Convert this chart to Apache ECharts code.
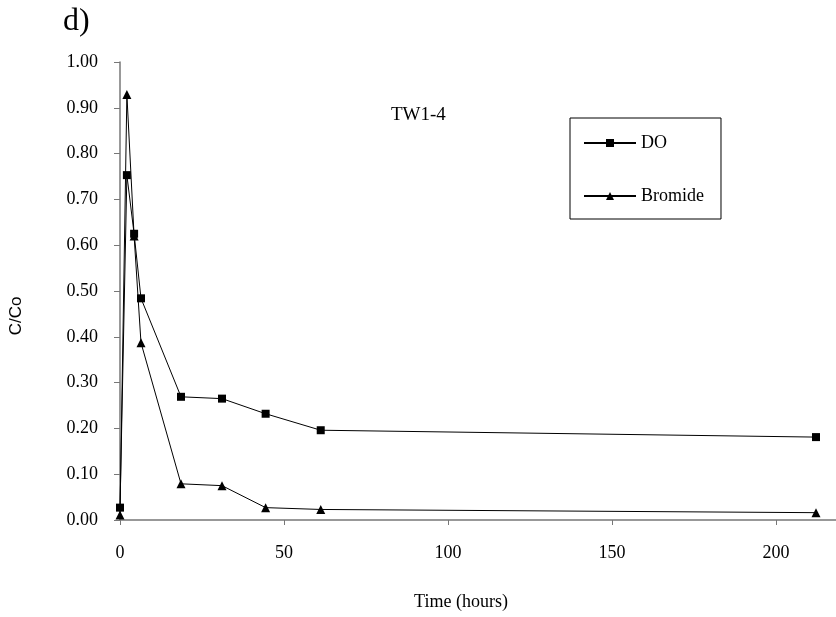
<!DOCTYPE html>
<html>
<head>
<meta charset="utf-8">
<script src="https://cdn.jsdelivr.net/npm/echarts@6/dist/echarts.min.js"></script>
<style>
html,body{margin:0;padding:0;background:#fff;}
#chart{width:836px;height:617px;}
</style>
</head>
<body>
<div id="chart"></div>
<script>
var hours = [0, 2.1, 4.3, 6.4, 18.6, 31.1, 44.4, 61.2, 212.2];
var doValues = [0.027, 0.753, 0.625, 0.484, 0.269, 0.265, 0.232, 0.196, 0.181];
var bromideValues = [0.011, 0.929, 0.620, 0.387, 0.079, 0.075, 0.027, 0.023, 0.016];
var xTicks = [0, 50, 100, 150, 200];
var seriesNames = ['DO', 'Bromide'];

function pairs(xs, ys) { return xs.map(function (x, i) { return [x, ys[i]]; }); }

var serif = 'Liberation Serif';
var chart = echarts.init(document.getElementById('chart'), null, {renderer: 'canvas'});
chart.setOption({
  animation: false,
  backgroundColor: '#fff',
  grid: {left: 120, right: 0, top: 62, bottom: 97, containLabel: false},
  xAxis: {
    type: 'value', min: 0, max: 218.3, interval: 50,
    name: 'Time (hours)', nameLocation: 'middle', nameGap: 73,
    nameTextStyle: {fontFamily: serif, fontSize: 18, color: '#000', padding: [0, 34, 0, 0]},
    axisLine: {lineStyle: {color: '#777', width: 1.5}},
    axisTick: {show: true, inside: false, length: 5, lineStyle: {color: '#777'}},
    axisLabel: {fontFamily: serif, fontSize: 18, color: '#000', margin: 24, showMaxLabel: false,
      formatter: function (v) { return xTicks.indexOf(v) >= 0 ? String(v) : ''; }},
    splitLine: {show: false}
  },
  yAxis: {
    type: 'value', min: 0, max: 1, interval: 0.1,
    name: 'C/Co', nameLocation: 'middle', nameGap: 95, nameRotate: 90,
    nameTextStyle: {fontFamily: 'Liberation Sans', fontSize: 17, color: '#000', padding: [0, 50, 0, 0]},
    axisLine: {show: true, lineStyle: {color: '#777', width: 1.5}},
    axisTick: {show: true, inside: false, length: 6, lineStyle: {color: '#777'}},
    axisLabel: {fontFamily: serif, fontSize: 18, color: '#000', margin: 22,
      formatter: function (v) { return v.toFixed(2); }},
    splitLine: {show: false}
  },
  legend: {
    data: seriesNames, orient: 'vertical', left: 570, top: 118,
    borderColor: '#000', borderWidth: 1, padding: [15, 17, 13, 13],
    itemGap: 33, itemWidth: 52, itemHeight: 10,
    textStyle: {fontFamily: serif, fontSize: 18, color: '#000', lineHeight: 20}
  },
  graphic: [
    {type: 'text', left: 63, top: 6, style: {text: 'd)', font: '32px "Liberation Serif"', fill: '#000'}},
    {type: 'text', left: 391, top: 106, style: {text: 'TW1-4', font: '19px "Liberation Serif"', fill: '#000'}}
  ],
  series: [
    {name: seriesNames[0], type: 'line', data: pairs(hours, doValues), symbol: 'rect', symbolSize: 8,
      lineStyle: {color: '#000', width: 1}, itemStyle: {color: '#000'}},
    {name: seriesNames[1], type: 'line', data: pairs(hours, bromideValues), symbol: 'triangle', symbolSize: 9,
      lineStyle: {color: '#000', width: 1}, itemStyle: {color: '#000'}}
  ]
});
</script>
</body>
</html>
